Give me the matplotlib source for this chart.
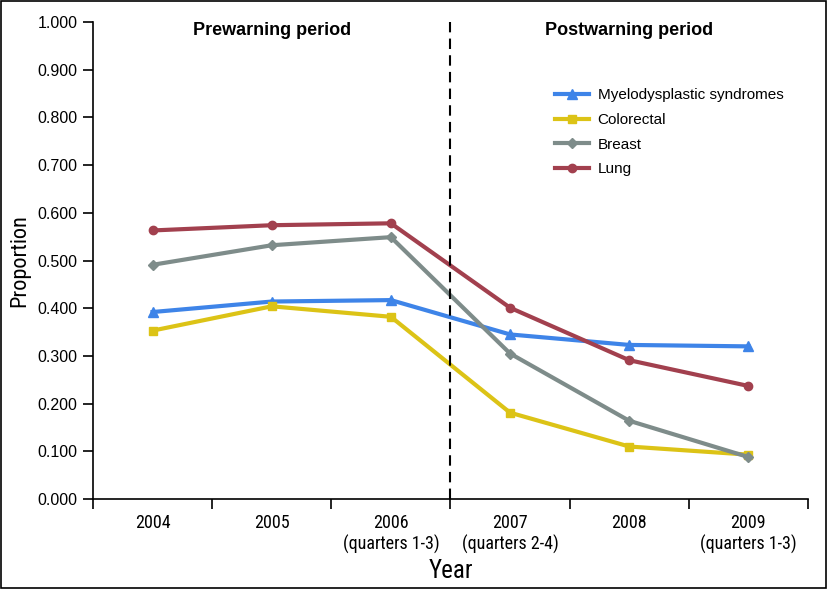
import numpy as np
import matplotlib
matplotlib.use("Agg")
import matplotlib.pyplot as plt
from matplotlib import font_manager
from matplotlib.patches import Rectangle
from matplotlib.ticker import FixedLocator, NullFormatter

# data
years = ["2004", "2005", "2006\n(quarters 1-3)", "2007\n(quarters 2-4)", "2008", "2009\n(quarters 1-3)"]
mds = [0.392, 0.414, 0.417, 0.345, 0.323, 0.320]
colorectal = [0.353, 0.404, 0.382, 0.181, 0.110, 0.093]
breast = [0.491, 0.532, 0.549, 0.305, 0.164, 0.088]
lung = [0.563, 0.574, 0.578, 0.401, 0.291, 0.237]
yticks = np.arange(0, 1.01, 0.1)

plt.rcParams['font.family'] = ['Liberation Sans', 'DejaVu Sans']
# condensed face for the axis titles / year labels, whatever is available
have = {f.name for f in font_manager.fontManager.ttflist}
cond = [f for f in ['Liberation Sans Narrow', 'DejaVu Sans Condensed', 'Roboto Condensed', 'Roboto'] if f in have]
cond = cond[:1] + ['DejaVu Sans']

fig = plt.figure(figsize=(8.28, 5.89), dpi=100)
ax = fig.add_axes([0.1123, 0.1528, 0.8635, 0.8098])
x = np.arange(len(years))

ax.plot(x, mds, color='#3E84E8', lw=3, marker='^', ms=7, label='Myelodysplastic syndromes')
ax.plot(x, colorectal, color='#DCC316', lw=3, marker='s', ms=6, label='Colorectal')
ax.plot(x, breast, color='#7E8C8A', lw=3, marker='D', ms=5, label='Breast')
ax.plot(x, lung, color='#A2404E', lw=3, marker='o', ms=6, label='Lung')

ax.plot([2.5, 2.5], [0, 1.0], color='black', lw=1.5, ls=(0, (5, 3)))

ax.set_xlim(-0.5, 5.5)
ax.set_ylim(0, 1.0)
ax.set_yticks(yticks)
ax.set_yticklabels([f"{v:.3f}" for v in yticks], fontsize=11.5)
ax.xaxis.set_major_locator(FixedLocator(np.arange(-0.5, 6, 1)))
ax.xaxis.set_major_formatter(NullFormatter())
ax.xaxis.set_minor_locator(FixedLocator(x))
ax.set_xticklabels(years, minor=True, fontsize=13, family=cond, linespacing=1.2)
ax.tick_params(axis='x', which='minor', length=0, pad=11)
ax.tick_params(axis='both', which='major', length=7, width=1.2, direction='out')
ax.tick_params(axis='y', pad=4)

for s in ['top', 'right']:
    ax.spines[s].set_visible(False)
for s in ['left', 'bottom']:
    ax.spines[s].set_linewidth(1.2)

ax.set_ylabel("Proportion", fontsize=16, family=cond, labelpad=5)
ax.set_xlabel("Year", fontsize=18, family=cond, labelpad=3)

ax.text(1, 1.0, "Prewarning period", ha='center', va='top', fontsize=13, fontweight='bold')
ax.text(4, 1.0, "Postwarning period", ha='center', va='top', fontsize=13, fontweight='bold')

ax.legend(loc='upper right', bbox_to_anchor=(0.985, 0.89), frameon=False, fontsize=11,
          handlelength=2.2, labelspacing=0.7, handletextpad=0.6)

fig.patches.append(Rectangle((0.001, 0.001), 0.997, 0.997, transform=fig.transFigure,
                             fill=False, edgecolor='black', lw=1.2))

fig.savefig("out.png", dpi=100)
